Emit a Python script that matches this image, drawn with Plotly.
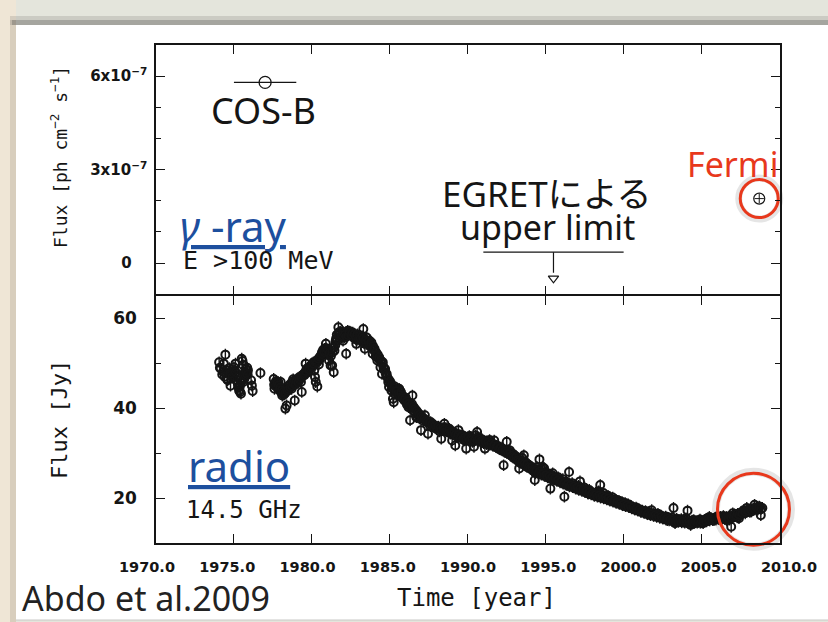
import plotly.graph_objects as go

# ---------------- data ----------------
radio_year = [
    1974.05, 1974.15, 1974.25, 1974.35, 1974.45, 1974.5, 1974.55, 1974.62, 1974.7, 1974.78,
    1974.85, 1974.92, 1975.0, 1975.05, 1975.1, 1975.15, 1975.2, 1975.28, 1975.33, 1975.4,
    1975.45, 1975.5, 1975.55, 1975.6, 1975.65, 1975.7, 1975.75, 1975.8, 1975.85, 1975.9,
    1976.1, 1976.15, 1976.2, 1976.7,
    1977.55, 1977.6, 1977.65, 1977.7, 1977.75, 1977.8, 1977.85, 1977.9, 1978.0, 1978.05,
    1978.1, 1978.15, 1978.2, 1978.3, 1978.38, 1978.45, 1978.5, 1978.55, 1978.6, 1978.7,
    1978.75, 1978.8, 1978.9, 1978.95, 1979.0, 1979.1, 1979.2, 1979.3, 1979.35, 1979.4,
    1979.5, 1979.6, 1979.65, 1979.7, 1979.8, 1979.9, 1980.0, 1980.1, 1980.15, 1980.2,
    1980.25, 1980.35, 1980.4, 1980.45, 1980.5, 1980.6, 1980.65, 1980.7, 1980.8, 1980.9,
    1980.95, 1981.05, 1981.1, 1981.2, 1981.3, 1981.4, 1981.45, 1981.5, 1981.55, 1981.6,
    1981.7, 1981.75, 1981.8, 1981.9, 1982.0, 1982.05, 1982.1, 1982.2, 1982.25, 1982.3,
    1982.4, 1982.5, 1982.6, 1982.7, 1982.8, 1982.85, 1982.9, 1983.0, 1983.1, 1983.2,
    1983.3, 1983.35, 1983.4, 1983.5, 1983.6, 1983.7, 1983.8, 1983.9, 1984.0, 1984.1,
    1984.2, 1984.3, 1984.4, 1984.5, 1984.55, 1984.6, 1984.7, 1984.8, 1984.9, 1984.95,
    1985.05, 1985.1, 1985.15, 1985.2, 1985.25, 1985.3, 1985.4, 1985.5, 1985.6, 1985.65,
    1985.7, 1985.8, 1985.85, 1985.95, 1986.05, 1986.1, 1986.2, 1986.3, 1986.35, 1986.45,
    1986.5, 1986.55, 1986.6, 1986.7, 1986.8, 1986.9, 1987.0, 1987.05, 1987.15, 1987.25,
    1987.35, 1987.45, 1987.5, 1987.6, 1987.7, 1987.8, 1987.9, 1988.0, 1988.1, 1988.2,
    1988.3, 1988.4, 1988.5, 1988.6, 1988.7, 1988.8, 1988.9, 1989.0, 1989.1, 1989.2,
    1989.3, 1989.4, 1989.5, 1989.6, 1989.7, 1989.8, 1989.9, 1990.0, 1990.1, 1990.2,
    1990.3, 1990.4, 1990.5, 1990.6, 1990.7, 1990.8, 1990.9, 1991.0, 1991.1, 1991.2,
    1991.3, 1991.4, 1991.5, 1991.6, 1991.7, 1991.8, 1991.9, 1992.0, 1992.1, 1992.2,
    1992.3, 1992.35, 1992.5, 1992.6, 1992.7, 1992.8, 1992.9, 1993.0, 1993.1, 1993.2,
    1993.3, 1993.4, 1993.5, 1993.6, 1993.7, 1993.8, 1993.9, 1994.0, 1994.1, 1994.2,
    1994.3, 1994.35, 1994.45, 1994.6, 1994.7, 1994.8, 1994.9, 1995.0, 1995.1, 1995.2,
    1995.3, 1995.35, 1995.45, 1995.55, 1995.7, 1995.8, 1995.9, 1996.0, 1996.1, 1996.2,
    1996.3, 1996.4, 1996.5, 1996.6, 1996.7, 1996.8, 1996.9,
    1997.0, 1997.1, 1997.2, 1997.3, 1997.4, 1997.5, 1997.6, 1997.7, 1997.8, 1997.9,
    1998.0, 1998.1, 1998.2, 1998.3, 1998.4, 1998.5, 1998.6, 1998.7, 1998.8, 1998.9,
    1999.0, 1999.1, 1999.2, 1999.3, 1999.4, 1999.5, 1999.6, 1999.7, 1999.8, 1999.9,
    2000.0, 2000.1, 2000.2, 2000.3, 2000.4, 2000.5, 2000.6, 2000.7, 2000.8, 2000.9,
    2001.0, 2001.1, 2001.2, 2001.3, 2001.4, 2001.5, 2001.6, 2001.7, 2001.8, 2001.9,
    2002.0, 2002.1, 2002.2, 2002.3, 2002.4, 2002.5, 2002.6, 2002.7, 2002.8, 2002.9,
    2003.0, 2003.1, 2003.2, 2003.3, 2003.4, 2003.5, 2003.6, 2003.7, 2003.8, 2003.9,
    2004.0, 2004.1, 2004.2, 2004.3, 2004.4, 2004.5, 2004.6, 2004.7, 2004.8, 2004.9,
    2005.0, 2005.1, 2005.2, 2005.3, 2005.4, 2005.5, 2005.6, 2005.7, 2005.8, 2005.9,
    2006.0, 2006.1, 2006.2, 2006.3, 2006.4, 2006.5, 2006.6, 2006.7, 2006.8, 2006.9,
    2007.0, 2007.1, 2007.2, 2007.3, 2007.4, 2007.5, 2007.6, 2007.7, 2007.8, 2007.9,
    2008.0, 2008.1, 2008.2, 2008.3, 2008.4, 2008.5, 2008.6, 2008.7, 2008.8, 2008.9,
]
radio_flux = [
    50.2, 48.8, 47.5, 49.9, 51.9, 48.4, 46.5, 47.8, 48.9, 45.0,
    47.2, 48.0, 49.1, 47.5, 49.9, 46.3, 46.9, 44.7, 43.9, 43.6,
    43.2, 51.0, 50.5, 45.8, 47.2, 48.0, 48.7, 47.3, 49.0, 48.4,
    46.2, 45.0, 43.8, 47.8,
    46.5, 44.3, 45.6, 46.0, 45.2, 44.6, 45.8, 44.0, 45.8, 43.4,
    42.8, 44.2, 43.0, 39.9, 40.6, 43.9, 44.8, 45.0, 45.3, 44.3,
    45.9, 46.4, 41.7, 46.2, 45.5, 46.4, 46.9, 45.8, 43.6, 47.2,
    47.7, 49.9, 48.6, 47.9, 48.4, 49.0, 49.5, 50.2, 48.3, 46.9,
    45.8, 44.8, 50.6, 49.7, 50.8, 51.7, 52.4, 52.0, 53.2, 54.3,
    52.5, 51.8, 50.6, 49.5, 49.5, 48.0, 52.8, 54.0, 55.4, 56.3,
    58.0, 56.9, 56.5, 55.6, 55.0, 56.4, 55.8, 52.1, 56.8, 57.2,
    56.5, 56.9, 56.1, 55.6, 55.4, 54.3, 55.2, 55.8, 56.1, 55.0,
    57.6, 54.4, 53.2, 54.3, 54.6, 55.0, 53.6, 52.1, 52.8, 51.5,
    50.6, 50.9, 49.1, 47.6, 50.2, 49.1, 48.7, 47.6, 45.8, 44.7,
    45.4, 43.9, 44.6, 42.1, 41.3, 43.2, 44.0, 43.5, 44.3, 43.9,
    42.6, 42.8, 42.4, 41.7, 41.3, 40.8, 40.2, 37.3, 40.2, 42.8,
    39.5, 40.0, 39.1, 38.0, 38.6, 37.7, 35.1, 37.9, 37.2, 38.4,
    36.9, 34.3, 36.7, 36.0, 36.5, 36.2, 35.6, 35.9, 35.4, 34.8,
    33.2, 35.2, 36.5, 35.6, 35.0, 35.1, 34.3, 32.8, 34.6, 31.7,
    34.2, 35.1, 34.0, 33.6, 33.9, 32.8, 31.0, 33.2, 33.8, 33.6,
    32.5, 31.4, 33.9, 34.7, 33.5, 32.8, 33.1, 32.4, 31.0, 32.6,
    32.1, 32.9, 32.3, 31.8, 32.8, 31.5, 31.2, 31.4, 30.8, 31.0,
    27.3, 30.3, 32.5, 30.2, 30.6, 29.9, 29.8, 29.5, 28.9, 28.6,
    26.6, 28.4, 28.9, 29.5, 28.0, 26.9, 27.4, 27.0, 26.6, 26.2,
    24.0, 25.5, 26.9, 28.6, 26.5, 26.9, 26.6, 25.8, 25.5, 25.0,
    22.1, 25.1, 25.5, 24.7, 24.4, 24.6, 24.0, 23.8, 24.2, 20.3,
    23.6, 23.4, 25.8, 23.0, 23.3, 22.6, 22.8,
    22.4, 22.7, 23.7, 22.0, 21.8, 22.3, 21.6, 21.1, 21.8, 21.4,
    21.0, 20.7, 21.2, 20.8, 21.5, 22.9, 20.6, 21.1, 20.4, 20.2,
    20.5, 20.0, 19.7, 20.1, 19.5, 19.6, 19.2, 19.4, 18.9, 19.1,
    18.5, 18.9, 18.3, 18.6, 18.0, 18.2, 17.8, 17.6, 17.9, 17.3,
    17.5, 17.0, 17.2, 16.8, 17.1, 16.6, 16.9, 16.4, 17.3, 16.5,
    16.3, 16.2, 16.5, 15.9, 16.1, 15.6, 15.5, 15.9, 15.1, 15.6,
    15.3, 15.7, 17.8, 14.4, 15.4, 15.0, 15.1, 15.3, 14.8, 15.2,
    15.5, 17.2, 14.8, 14.0, 15.0, 15.1, 14.6, 14.9, 14.7, 15.2,
    14.6, 14.4, 15.0, 15.4, 15.1, 15.8, 15.5, 15.2, 15.1, 15.6,
    15.9, 15.4, 15.8, 15.6, 16.0, 15.3, 15.1, 15.6, 15.2, 13.6,
    16.6, 15.9, 16.2, 15.7, 15.5, 16.4, 16.8, 17.3, 16.6, 17.8,
    17.1, 16.9, 17.0, 17.5, 18.5, 17.6, 17.4, 18.1, 16.2, 17.8,
]

radio_year_b = [
    1974.1, 1974.3, 1974.4, 1974.6, 1974.75, 1974.88, 1975.02, 1975.12, 1975.25, 1975.38,
    1975.48, 1975.58, 1975.68, 1975.78, 1975.88,
    1977.58, 1977.68, 1977.78, 1977.88, 1977.98, 1978.08, 1978.18, 1978.28, 1978.42, 1978.52,
    1978.62, 1978.72, 1978.82, 1978.92, 1979.02, 1979.12, 1979.22, 1979.32, 1979.42, 1979.52,
    1979.62, 1979.72, 1979.82, 1979.92, 1980.02, 1980.12, 1980.22, 1980.32, 1980.42, 1980.52,
    1980.62, 1980.72, 1980.82, 1980.92, 1981.02, 1981.12, 1981.22, 1981.32, 1981.42, 1981.52,
    1981.62, 1981.72, 1981.82, 1981.92, 1982.02, 1982.12, 1982.22, 1982.32, 1982.42, 1982.52,
    1982.62, 1982.72, 1982.82, 1982.92, 1983.02, 1983.12, 1983.22, 1983.32, 1983.42, 1983.52,
    1983.62, 1983.72, 1983.82, 1983.92, 1984.02, 1984.12, 1984.22, 1984.32, 1984.42, 1984.52,
    1984.62, 1984.72, 1984.82, 1984.92, 1985.02, 1985.12, 1985.22, 1985.32, 1985.42, 1985.52,
    1985.62, 1985.72, 1985.82, 1985.92, 1986.02, 1986.12, 1986.22, 1986.32, 1986.42, 1986.52,
    1986.62, 1986.72, 1986.82, 1986.92, 1987.02, 1987.12, 1987.22, 1987.32, 1987.42, 1987.52,
    1987.62, 1987.72, 1987.82, 1987.92, 1988.02, 1988.12, 1988.22, 1988.32, 1988.42, 1988.52,
    1988.62, 1988.72, 1988.82, 1988.92, 1989.02, 1989.12, 1989.22, 1989.32, 1989.42, 1989.52,
    1989.62, 1989.72, 1989.82, 1989.92, 1990.02, 1990.12, 1990.22, 1990.32, 1990.42, 1990.52,
    1990.62, 1990.72, 1990.82, 1990.92, 1991.02, 1991.12, 1991.22, 1991.32, 1991.42, 1991.52,
    1991.62, 1991.72, 1991.82, 1991.92, 1992.02, 1992.12, 1992.22, 1992.42, 1992.52, 1992.62,
    1992.72, 1992.82, 1992.92, 1993.02, 1993.12, 1993.22, 1993.32, 1993.42, 1993.52, 1993.62,
    1993.72, 1993.82, 1993.92, 1994.02, 1994.12, 1994.22, 1994.32, 1994.42, 1994.52, 1994.62,
    1994.72, 1994.82, 1994.92, 1995.02, 1995.12, 1995.22, 1995.32, 1995.42, 1995.52, 1995.62,
    1995.72, 1995.82, 1995.92, 1996.02, 1996.12, 1996.22, 1996.32, 1996.42, 1996.52, 1996.62,
    1996.72, 1996.82, 1996.92, 1997.02, 1997.12, 1997.22, 1997.32, 1997.42, 1997.52, 1997.62,
    1997.72, 1997.82, 1997.92, 1998.02, 1998.12, 1998.22, 1998.32, 1998.42, 1998.52, 1998.62,
    1998.72, 1998.82, 1998.92, 1999.02, 1999.12, 1999.22, 1999.32, 1999.42, 1999.52, 1999.62,
    1999.72, 1999.82, 1999.92, 2000.02, 2000.12, 2000.22, 2000.32, 2000.42, 2000.52, 2000.62,
    2000.72, 2000.82, 2000.92, 2001.02, 2001.12, 2001.22, 2001.32, 2001.42, 2001.52, 2001.62,
    2001.72, 2001.82, 2001.92, 2002.02, 2002.12, 2002.22, 2002.32, 2002.42, 2002.52, 2002.62,
    2002.72, 2002.82, 2002.92, 2003.02, 2003.12, 2003.22, 2003.32, 2003.42, 2003.52, 2003.62,
    2003.72, 2003.82, 2003.92, 2004.02, 2004.12, 2004.22, 2004.32, 2004.42, 2004.52, 2004.62,
    2004.72, 2004.82, 2004.92, 2005.02, 2005.12, 2005.22, 2005.32, 2005.42, 2005.52, 2005.62,
    2005.72, 2005.82, 2005.92, 2006.02, 2006.12, 2006.22, 2006.32, 2006.42, 2006.52, 2006.62,
    2006.72, 2006.82, 2006.92, 2007.02, 2007.12, 2007.22, 2007.32, 2007.42, 2007.52, 2007.62,
    2007.72, 2007.82, 2007.92, 2008.02, 2008.12, 2008.22, 2008.32, 2008.42, 2008.52, 2008.62,
    2008.72, 2008.82,
]
radio_flux_b = [
    49.0, 48.1, 47.0, 46.2, 47.6, 46.8, 48.4, 48.0, 45.5, 44.8,
    45.9, 49.6, 46.6, 47.8, 47.5,
    45.2, 44.9, 45.5, 45.1, 44.6, 44.0, 43.6, 43.3, 43.9, 44.2,
    44.6, 45.0, 45.4, 45.2, 46.0, 45.7, 46.3, 46.8, 47.4, 47.3,
    48.2, 48.9, 48.6, 49.4, 49.1, 49.8, 50.3, 50.1, 51.0, 51.4,
    52.0, 52.9, 52.4, 53.3, 53.0, 52.2, 51.6, 52.4, 53.5, 54.8,
    55.5, 56.4, 57.0, 56.2, 56.9, 56.4, 55.9, 56.2, 57.0, 56.3,
    56.8, 56.4, 55.9, 56.4, 55.3, 55.5, 56.0, 55.6, 55.1, 55.7,
    54.8, 54.2, 54.6, 53.8, 53.2, 52.4, 51.9, 51.3, 50.6, 49.9,
    48.8, 47.9, 47.0, 46.4, 45.9, 45.1, 44.5, 44.8, 43.8, 43.1,
    42.9, 43.5, 42.2, 41.8, 42.3, 41.6, 41.0, 40.6, 40.9, 40.3,
    39.8, 39.4, 38.9, 38.6, 38.2, 37.8, 37.6, 37.3, 37.0, 36.8,
    36.9, 36.4, 35.8, 36.1, 35.6, 35.9, 35.5, 35.1, 35.6, 35.3,
    34.8, 34.9, 35.4, 34.6, 34.2, 34.5, 34.0, 33.6, 34.1, 33.4,
    33.8, 33.2, 33.5, 33.0, 33.4, 32.9, 33.3, 33.0, 32.7, 33.2,
    32.8, 33.0, 32.5, 32.7, 32.2, 32.5, 32.0, 32.4, 31.9, 32.2,
    31.6, 31.9, 31.3, 31.5, 30.9, 31.2, 30.6, 30.4, 30.0, 29.8,
    30.1, 29.4, 29.0, 28.8, 29.2, 28.3, 28.0, 27.7, 28.2, 27.5,
    27.2, 27.6, 26.8, 26.5, 26.9, 26.0, 25.8, 26.2, 25.5, 25.9,
    25.2, 25.5, 24.9, 25.1, 24.6, 24.8, 24.3, 24.6, 24.1, 24.4,
    23.8, 24.0, 23.5, 23.7, 23.2, 23.4, 22.9, 23.1, 22.6, 22.9,
    22.4, 22.6, 22.1, 22.3, 21.8, 22.0, 21.6, 21.9, 21.3, 21.5,
    21.0, 21.3, 20.8, 21.0, 20.5, 20.7, 20.3, 20.6, 20.1, 20.3,
    19.9, 20.1, 19.7, 19.9, 19.4, 19.6, 19.2, 19.4, 18.9, 19.1,
    18.7, 18.9, 18.4, 18.6, 18.2, 18.4, 18.0, 18.2, 17.7, 17.9,
    17.4, 17.6, 17.2, 17.4, 16.9, 17.1, 16.7, 16.9, 16.4, 16.6,
    16.2, 16.4, 16.0, 16.2, 15.8, 16.0, 15.6, 15.8, 15.4, 15.6,
    15.2, 15.4, 15.0, 15.2, 14.9, 15.1, 14.8, 15.0, 14.7, 14.9,
    14.6, 14.8, 14.5, 14.7, 14.5, 14.7, 14.4, 14.6, 14.4, 14.7,
    14.5, 14.8, 14.5, 14.9, 14.7, 15.0, 14.8, 15.2, 15.0, 15.3,
    15.1, 15.4, 15.2, 15.5, 15.3, 15.6, 15.4, 15.7, 15.5, 15.8,
    15.6, 15.9, 15.7, 16.1, 16.3, 16.0, 16.5, 16.3, 16.8, 16.6,
    17.0, 16.9, 17.3, 17.1, 17.5, 17.3, 17.7, 17.5, 17.9, 17.7,
    18.0, 17.6,
]

cosb_year = [1977.0]
cosb_flux = [5.8e-7]
cosb_year_err = [2.0]

egret_years = [1991.0, 2000.0]
egret_limit = 3.5e-8
egret_arrow_year = 1995.5

fermi_year = [2008.7]
fermi_flux = [2.07e-7]

radio_highlight_year = [2008.33]
radio_highlight_flux = [17.5]

year_ticks = [1970, 1975, 1980, 1985, 1990, 1995, 2000, 2005, 2010]
year_labels = ["1970.0", "1975.0", "1980.0", "1985.0", "1990.0",
               "1995.0", "2000.0", "2005.0", "2010.0"]
gamma_ticks = [0, 3e-7, 6e-7]
gamma_labels = ["0\u00a0\u00a0\u00a0", "3x10<sup>\u22127</sup>", "6x10<sup>\u22127</sup>"]
radio_ticks = [20, 40, 60]
radio_labels = ["20", "40", "60"]

# ---------------- layout helpers (pixel -> paper) ----------------
W, H = 828, 622
def X(px):
    return px / W
def Y(py):
    return 1 - py / H

RED = "#e8381c"
BLUE = "#1d4f9e"
INK = "#151515"

fig = go.Figure()

# radio light curve
fig.add_trace(go.Scatter(
    x=radio_year + radio_year_b, y=radio_flux + radio_flux_b,
    xaxis="x2", yaxis="y2", mode="markers",
    marker=dict(symbol="circle-open", size=8, color=INK, line=dict(width=2.0, color=INK)),
    error_y=dict(type="constant", value=1.3, color=INK, thickness=1.4, width=0),
    showlegend=False, hoverinfo="skip"))

# COS-B
fig.add_trace(go.Scatter(
    x=cosb_year, y=cosb_flux, xaxis="x", yaxis="y", mode="markers",
    marker=dict(symbol="circle-open", size=12, color=INK, line=dict(width=1.3, color=INK)),
    error_x=dict(type="data", array=cosb_year_err, color=INK, thickness=1.2, width=0),
    showlegend=False, hoverinfo="skip"))

# EGRET upper limit
fig.add_trace(go.Scatter(
    x=egret_years, y=[egret_limit, egret_limit], xaxis="x", yaxis="y", mode="lines",
    line=dict(color=INK, width=1.2), showlegend=False, hoverinfo="skip"))
fig.add_trace(go.Scatter(
    x=[egret_arrow_year, egret_arrow_year], y=[egret_limit, egret_limit - 6.6e-8],
    xaxis="x", yaxis="y", mode="lines", line=dict(color=INK, width=1.2),
    showlegend=False, hoverinfo="skip"))
fig.add_trace(go.Scatter(
    x=[egret_arrow_year], y=[egret_limit - 8.4e-8], xaxis="x", yaxis="y", mode="markers",
    marker=dict(symbol="triangle-down-open", size=9, color=INK, line=dict(width=1.2, color=INK)),
    showlegend=False, hoverinfo="skip", cliponaxis=False))

# highlight shadows + red circles
fig.add_trace(go.Scatter(
    x=fermi_year, y=fermi_flux, xaxis="x", yaxis="y", mode="markers", cliponaxis=False,
    marker=dict(symbol="circle-open", size=41, color="rgba(0,0,0,0.10)",
                line=dict(width=7, color="rgba(0,0,0,0.10)")),
    showlegend=False, hoverinfo="skip"))
fig.add_trace(go.Scatter(
    x=radio_highlight_year, y=radio_highlight_flux, xaxis="x2", yaxis="y2", mode="markers",
    cliponaxis=False,
    marker=dict(symbol="circle-open", size=75, color="rgba(0,0,0,0.10)",
                line=dict(width=8, color="rgba(0,0,0,0.10)")),
    showlegend=False, hoverinfo="skip"))

# Fermi point
fig.add_trace(go.Scatter(
    x=fermi_year, y=fermi_flux, xaxis="x", yaxis="y", mode="markers",
    marker=dict(symbol="circle-open", size=11, color=INK, line=dict(width=1.2, color=INK)),
    error_x=dict(type="constant", value=0.3, color=INK, thickness=1.0, width=0),
    error_y=dict(type="constant", value=1.5e-8, color=INK, thickness=1.0, width=0),
    showlegend=False, hoverinfo="skip", cliponaxis=False))

fig.add_trace(go.Scatter(
    x=fermi_year, y=fermi_flux, xaxis="x", yaxis="y", mode="markers", cliponaxis=False,
    marker=dict(symbol="circle-open", size=38, color=RED, line=dict(width=3, color=RED)),
    showlegend=False, hoverinfo="skip"))
fig.add_trace(go.Scatter(
    x=radio_highlight_year, y=radio_highlight_flux, xaxis="x2", yaxis="y2", mode="markers",
    cliponaxis=False,
    marker=dict(symbol="circle-open", size=72, color=RED, line=dict(width=3, color=RED)),
    showlegend=False, hoverinfo="skip"))

# empty trace to carry the label axis
fig.add_trace(go.Scatter(x=[], y=[], xaxis="x3", yaxis="y2", showlegend=False))

# ---------------- axes ----------------
plot_left, plot_right = 156, 779.5
top_top, bot_bot = 45, 543
top_low, bot_high = 294.25, 295.75   # shared border drawn once at ~295

axis_common = dict(
    showline=True, linecolor=INK, linewidth=1.5, mirror="ticks",
    ticks="inside", ticklen=9, tickwidth=1.2, tickcolor=INK,
    showgrid=False, zeroline=False, automargin=False,
)
tick_font = dict(family="DejaVu Sans", size=15, color=INK, weight="bold")

fig.update_layout(
    xaxis=dict(axis_common, domain=[X(plot_left), X(plot_right)], anchor="y",
               range=[1970, 2010], tickvals=year_ticks, showticklabels=False),
    xaxis2=dict(axis_common, domain=[X(plot_left), X(plot_right)], anchor="y2",
                range=[1970, 2010], tickvals=year_ticks, showticklabels=False),
    xaxis3=dict(domain=[X(147), X(789)], anchor="y2", range=[1970, 2010],
                tickvals=year_ticks, ticktext=year_labels, showline=False, ticks="",
                showgrid=False, zeroline=False, automargin=False,
                ticklabelstandoff=13,
                tickfont=dict(tick_font, size=14.5)),
    yaxis=dict(axis_common, domain=[Y(top_low), Y(top_top)], anchor="x",
               range=[-1e-7, 7e-7], tickvals=gamma_ticks, ticktext=gamma_labels,
               ticklabelstandoff=4,
               tickfont=dict(tick_font, size=15),
               minor=dict(dtick=1e-7, tick0=0, ticks="inside", ticklen=5,
                          tickwidth=1.1, tickcolor=INK, showgrid=False)),
    yaxis2=dict(axis_common, domain=[Y(bot_bot), Y(bot_high)], anchor="x2",
                range=[10, 65], tickvals=radio_ticks, ticktext=radio_labels,
                ticklabelstandoff=14,
                tickfont=dict(tick_font, size=17),
                minor=dict(dtick=10, tick0=0, ticks="inside", ticklen=5,
                           tickwidth=1.1, tickcolor=INK, showgrid=False)),
)

# ---------------- background (slide card) ----------------
shapes = [
    dict(type="rect", xref="paper", yref="paper", x0=0, x1=X(16), y0=0, y1=1,
         fillcolor="#efe6d6", line=dict(width=0), layer="below"),
    dict(type="rect", xref="paper", yref="paper", x0=X(10), x1=X(16), y0=0, y1=Y(20),
         fillcolor="rgba(110,100,80,0.18)", line=dict(width=0), layer="below"),
    dict(type="rect", xref="paper", yref="paper", x0=X(10), x1=1, y0=Y(25), y1=Y(16),
         fillcolor="rgba(90,90,85,0.18)", line=dict(width=0), layer="below"),
    dict(type="rect", xref="paper", yref="paper", x0=X(12), x1=1, y0=Y(25), y1=Y(20),
         fillcolor="rgba(80,80,75,0.30)", line=dict(width=0), layer="below"),
    dict(type="rect", xref="paper", yref="paper", x0=X(16), x1=1, y0=Y(620), y1=Y(25),
         fillcolor="white", line=dict(width=0), layer="below"),
    dict(type="line", xref="paper", yref="paper", x0=X(16), x1=1, y0=Y(620), y1=Y(620),
         line=dict(width=1, color="#c9c9c6"), layer="below"),
]

# ---------------- text ----------------
def ann(text, px, py, size, family="Noto Sans", color=INK, xanchor="center", angle=0):
    return dict(text=text, xref="paper", yref="paper", x=X(px), y=Y(py),
                xanchor=xanchor, yanchor="middle", showarrow=False, textangle=angle,
                font=dict(family=family, size=size, color=color))

annotations = [
    ann("COS-B", 263.5, 110, 36),
    ann("EGRETによる", 546.5, 193, 35, family="Noto Sans, Noto Sans CJK JP"),
    ann("upper limit", 547.5, 227, 34),
    ann("Fermi", 685, 164, 34, color=RED, xanchor="left"),
    ann("<u><i>γ</i> -ray</u>", 178, 226, 42, color=BLUE, xanchor="left"),
    ann("E >100 MeV", 181, 260, 25, family="DejaVu Sans Mono", xanchor="left"),
    ann("<u>radio</u>", 186, 466, 42, color=BLUE, xanchor="left"),
    ann("14.5 GHz", 184, 510, 24, family="DejaVu Sans Mono", xanchor="left"),
    ann("Abdo et al.2009", 20, 598, 34, color="#222222", xanchor="left"),
    ann("Flux [ph cm<sup>\u22122</sup> s<sup>\u22121</sup>]", 59, 157, 18,
        family="DejaVu Sans Mono", angle=-90),
    ann("Flux [Jy]", 59, 420, 22, family="DejaVu Sans Mono", angle=-90),
    ann("Time [year]", 476, 598, 24, family="DejaVu Sans Mono"),
]

fig.update_layout(
    width=W, height=H, template="none",
    margin=dict(l=0, r=0, t=0, b=0, pad=0),
    paper_bgcolor="#e4e5dc", plot_bgcolor="rgba(0,0,0,0)",
    shapes=shapes, annotations=annotations, showlegend=False,
)

fig.write_html("out.html")
